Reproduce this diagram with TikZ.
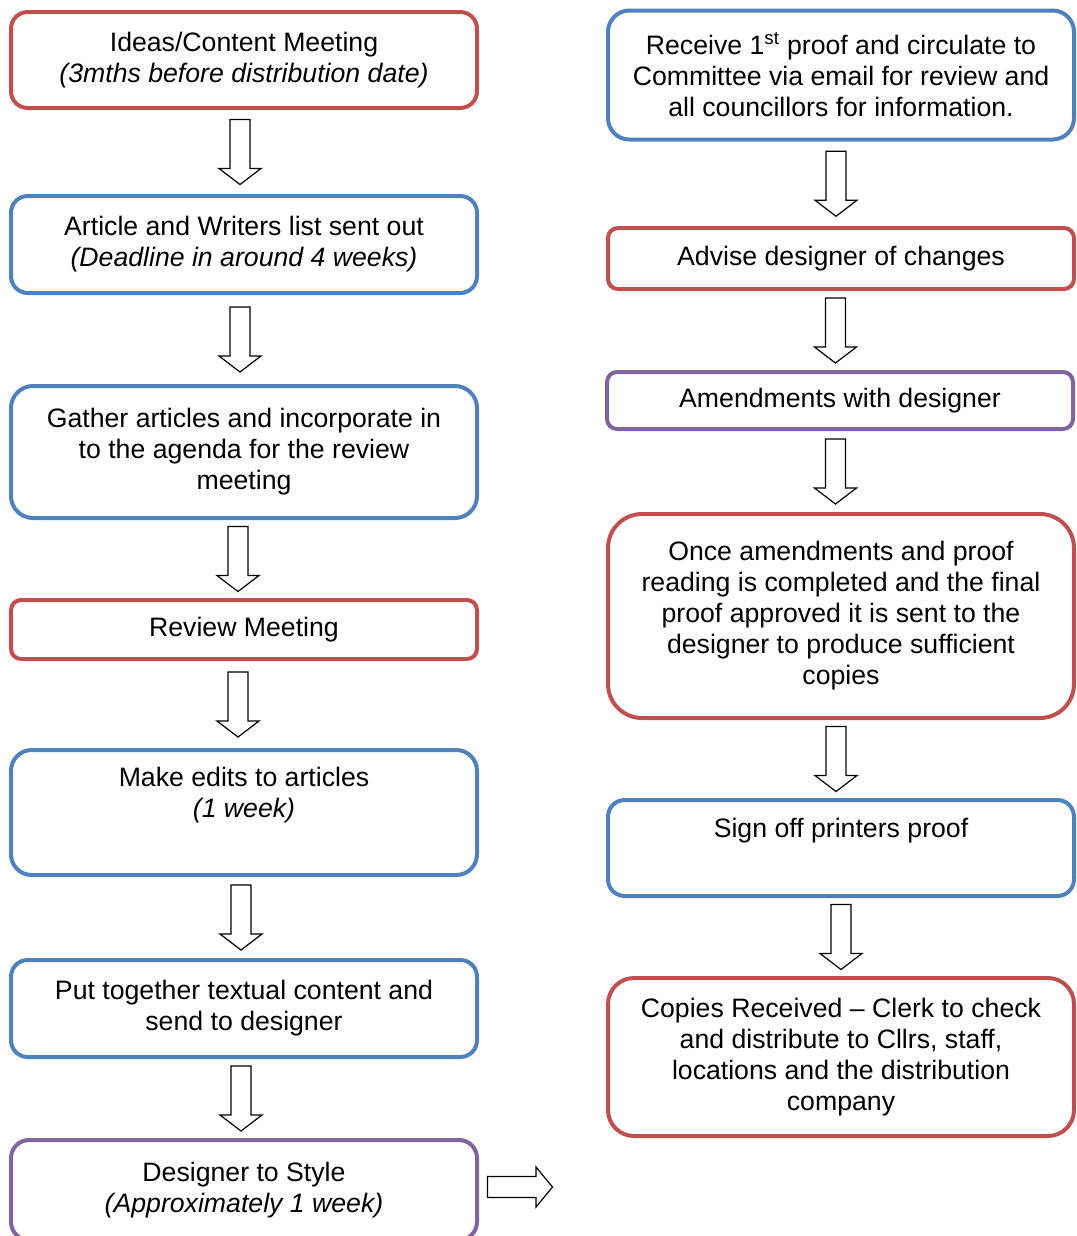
\documentclass[tikz,border=0pt]{standalone}
\usepackage{fontspec}
\setmainfont{Liberation Sans}
\usetikzlibrary{calc}

\definecolor{stagered}{HTML}{C0504D}
\definecolor{stageblue}{HTML}{4F81BD}
\definecolor{stagepurple}{HTML}{8064A2}

\begin{document}
\begin{tikzpicture}[
    x=0.75pt, y=-0.75pt,
    every node/.style={font=\fontsize{20}{23.25}\selectfont},
    stage/.style={
        rectangle,
        draw=#1,
        line width=3pt,
        minimum width=349.5pt,
        inner sep=0pt,
        align=center
    },
    downarrow/.pic={
        \draw [line width=0.9pt, fill=white]
            (-10,-32.5) -- (10,-32.5) -- (10,16.5) -- (21,16.5) -- (0,32.5)
            -- (-21,16.5) -- (-10,16.5) -- cycle;
    },
    rightarrow/.pic={
        \draw [line width=0.9pt, fill=white]
            (-32.5,-10.5) -- (16,-10.5) -- (16,-20) -- (32.5,0) -- (16,20)
            -- (16,10.5) -- (-32.5,10.5) -- cycle;
    }
]

\useasboundingbox (0,0) rectangle (1077,1236);

% Left column
\node (ideas) [stage=stagered, minimum height=72pt, rounded corners=12.5pt] at (244,60)
{Ideas/Content Meeting\\\textit{(3mths before distribution date)}};

\node (article) [stage=stageblue, minimum height=72.75pt, rounded corners=12.5pt] at (244,244.5)
{Article and Writers list sent out\\\textit{(Deadline in around 4 weeks)}};

\node (gather) [stage=stageblue, minimum height=99pt, rounded corners=16.5pt] at (244,452)
{Gather articles and incorporate in\\to the agenda for the review\\meeting};

\node (review) [stage=stagered, minimum height=44.25pt, rounded corners=7.5pt] at (244,629.5)
{Review Meeting};

\node (edits) [stage=stageblue, minimum height=93.75pt, rounded corners=15.5pt] at (244,812.5)
{Make edits to articles\\\textit{(1 week)}\\\strut};

\node (content) [stage=stageblue, minimum height=72.75pt, rounded corners=12.5pt] at (244,1008.5)
{Put together textual content and\\send to designer};

\node (style) [stage=stagepurple, minimum height=75pt, rounded corners=13.5pt] at (244,1190)
{Designer to Style\\\textit{(Approximately 1 week)}};

% Right column
\node (receive) [stage=stageblue, minimum height=96.75pt, rounded corners=16pt] at (841,75)
{Receive 1\textsuperscript{st} proof and circulate to\\Committee via email for review and\\all councillors for information.};

\node (advise) [stage=stagered, minimum height=45.75pt, rounded corners=7.5pt] at (841,258.5)
{Advise designer of changes};

\node (amend) [stage=stagepurple, minimum height=42.75pt, rounded corners=7.5pt] at (840,400.5)
{Amendments with designer};

\node (final) [stage=stagered, minimum height=153pt, rounded corners=25.5pt] at (841,616)
{Once amendments and proof\\reading is completed and the final\\proof approved it is sent to the\\designer to produce sufficient\\copies};

\node (signoff) [stage=stageblue, minimum height=72pt, rounded corners=12.5pt] at (841,848)
{Sign off printers proof\\\strut};

\node (copies) [stage=stagered, minimum height=118.5pt, rounded corners=19.5pt] at (841,1057)
{Copies Received – Clerk to check\\and distribute to Cllrs, staff,\\locations and the distribution\\company};

% Arrows
\pic at ($(ideas.south)!0.5!(article.north)+(-4,0)$) {downarrow};
\pic at ($(article.south)!0.5!(gather.north)+(-4,0)$) {downarrow};
\pic at ($(gather.south)!0.5!(review.north)+(-6,0)$) {downarrow};
\pic at ($(review.south)!0.5!(edits.north)+(-6,0)$) {downarrow};
\pic at ($(edits.south)!0.5!(content.north)+(-3,0)$) {downarrow};
\pic at ($(content.south)!0.5!(style.north)+(-3,0)$) {downarrow};
\pic at (520,1187) {rightarrow};

\pic at ($(receive.south)!0.5!(advise.north)+(-5,0)$) {downarrow};
\pic at ($(advise.south)!0.5!(amend.north)+(-5,0)$) {downarrow};
\pic at ($(amend.south)!0.5!(final.north)+(-5,0)$) {downarrow};
\pic at ($(final.south)!0.5!(signoff.north)+(-5,0)$) {downarrow};
\pic at ($(signoff.south)!0.5!(copies.north)$) {downarrow};

\end{tikzpicture}
\end{document}
